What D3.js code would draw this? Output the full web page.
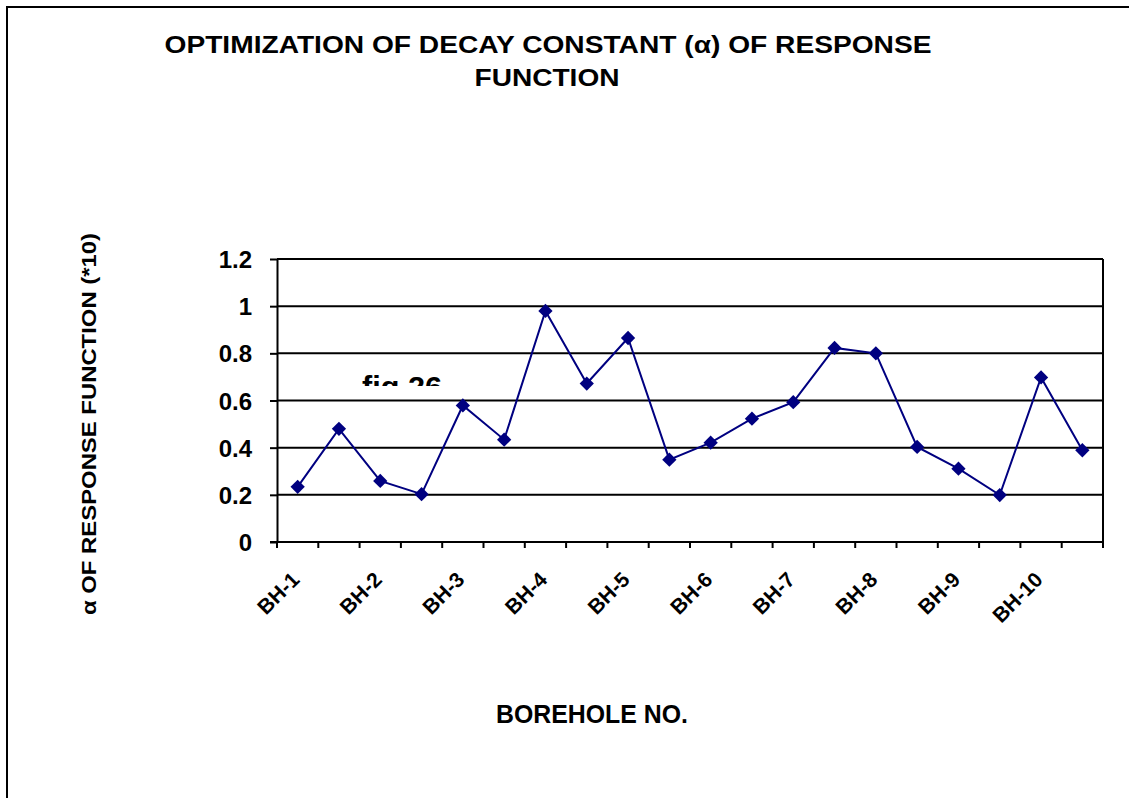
<!DOCTYPE html>
<html>
<head>
<meta charset="utf-8">
<script src="https://cdn.jsdelivr.net/npm/d3@7"></script>
<style>
html,body{margin:0;padding:0;background:#fff;}
svg{display:block;}
text{font-family:"Liberation Sans",Arial,sans-serif;font-weight:bold;fill:#000;}
</style>
</head>
<body>
<svg id="chart" width="1129" height="798"></svg>
<script>
// ---- data ----
const categories = ["BH-1","","BH-2","","BH-3","","BH-4","","BH-5","","BH-6","","BH-7","","BH-8","","BH-9","","BH-10",""];
const alphaValues = [0.234,0.48,0.259,0.203,0.579,0.434,0.98,0.672,0.865,0.349,0.421,0.523,0.593,0.823,0.80,0.403,0.311,0.199,0.698,0.389];
const yTicks = [0,0.2,0.4,0.6,0.8,1,1.2];
const yTickLabels = ["0","0.2","0.4","0.6","0.8","1","1.2"];
const titleLines = ["OPTIMIZATION OF DECAY CONSTANT (\u03b1) OF RESPONSE","FUNCTION"];
const yTitle = "\u03b1 OF RESPONSE FUNCTION (*10)";
const xTitle = "BOREHOLE NO.";
const noteText = "fig 26";

// ---- layout ----
const svg = d3.select("#chart");
const plot = {left:277, right:1103, top:259, bottom:542};

const x = d3.scaleBand().domain(d3.range(categories.length)).range([plot.left, plot.right]).padding(0);
const y = d3.scaleLinear().domain([0,1.2]).range([plot.bottom, plot.top]);

// outer border
svg.append("rect").attr("x",7).attr("y",7).attr("width",1200).attr("height",900)
  .attr("fill","none").attr("stroke","#000").attr("stroke-width",2);

// title
const titleG = svg.append("g");
titleG.append("text").attr("x",548).attr("y",53).attr("text-anchor","middle")
  .attr("font-size",24).attr("textLength",767).attr("lengthAdjust","spacingAndGlyphs").text(titleLines[0]);
titleG.append("text").attr("x",547).attr("y",86).attr("text-anchor","middle")
  .attr("font-size",24).attr("textLength",145).attr("lengthAdjust","spacingAndGlyphs").text(titleLines[1]);

// clipped note text (partially hidden)
svg.append("clipPath").attr("id","noteclip").append("rect")
  .attr("x",300).attr("y",300).attr("width",300).attr("height",86);
svg.append("text").attr("clip-path","url(#noteclip)")
  .attr("x",362).attr("y",397).attr("font-size",30).attr("textLength",80).attr("lengthAdjust","spacingAndGlyphs").text(noteText);

// gridlines
svg.append("g").selectAll("line").data(yTicks.filter(d=>d>0)).join("line")
  .attr("x1",plot.left).attr("x2",plot.right)
  .attr("y1",d=>y(d)).attr("y2",d=>y(d))
  .attr("stroke","#000").attr("stroke-width",2);

// plot border right
svg.append("line").attr("x1",plot.right).attr("x2",plot.right).attr("y1",plot.top).attr("y2",plot.bottom+6)
  .attr("stroke","#000").attr("stroke-width",2);

// y axis
const yAxis = d3.axisLeft(y).tickValues(yTicks).tickFormat((d,i)=>yTickLabels[i]).tickSize(7).tickSizeOuter(0);
const yg = svg.append("g").attr("transform",`translate(${plot.left},0)`).call(yAxis);
yg.attr("font-size",null).attr("font-family",null);
yg.select(".domain").attr("stroke","#000").attr("stroke-width",2);
yg.selectAll(".tick line").attr("stroke","#000").attr("stroke-width",2);
yg.selectAll(".tick text").style("font-size","24px").attr("x",-25).attr("dy","0.36em");

// x axis
svg.append("line").attr("x1",plot.left-7).attr("x2",plot.right).attr("y1",plot.bottom).attr("y2",plot.bottom)
  .attr("stroke","#000").attr("stroke-width",2);
const boundaries = d3.range(categories.length+1).map(i => i<categories.length ? x(i) : plot.right);
svg.append("g").selectAll("line").data(boundaries).join("line")
  .attr("x1",d=>d).attr("x2",d=>d).attr("y1",plot.bottom).attr("y2",plot.bottom+6)
  .attr("stroke","#000").attr("stroke-width",2);
svg.append("g").selectAll("text").data(categories.map((c,i)=>({c,i})).filter(d=>d.c!=="")).join("text")
  .attr("transform",d=>`translate(${x(d.i)+x.bandwidth()/2+3},${plot.bottom+39}) rotate(-45)`)
  .attr("text-anchor","end").style("font-size","21px").text(d=>d.c);

// axis titles
svg.append("text").attr("transform","translate(96,424) rotate(-90)").attr("text-anchor","middle")
  .attr("font-size",21).attr("textLength",382).attr("lengthAdjust","spacingAndGlyphs").text(yTitle);
svg.append("text").attr("x",592).attr("y",723).attr("text-anchor","middle")
  .attr("font-size",25).attr("textLength",192).attr("lengthAdjust","spacingAndGlyphs").text(xTitle);

// series line
const line = d3.line().x((d,i)=>x(i)+x.bandwidth()/2).y(d=>y(d));
svg.append("path").datum(alphaValues).attr("d",line)
  .attr("fill","none").attr("stroke","#000080").attr("stroke-width",2);

// markers
const diamond = d3.symbol().type(d3.symbolDiamond2).size(130);
svg.append("g").selectAll("path").data(alphaValues).join("path")
  .attr("transform",(d,i)=>`translate(${x(i)+x.bandwidth()/2},${y(d)})`)
  .attr("d",diamond).attr("fill","#000080");
</script>
</body>
</html>
